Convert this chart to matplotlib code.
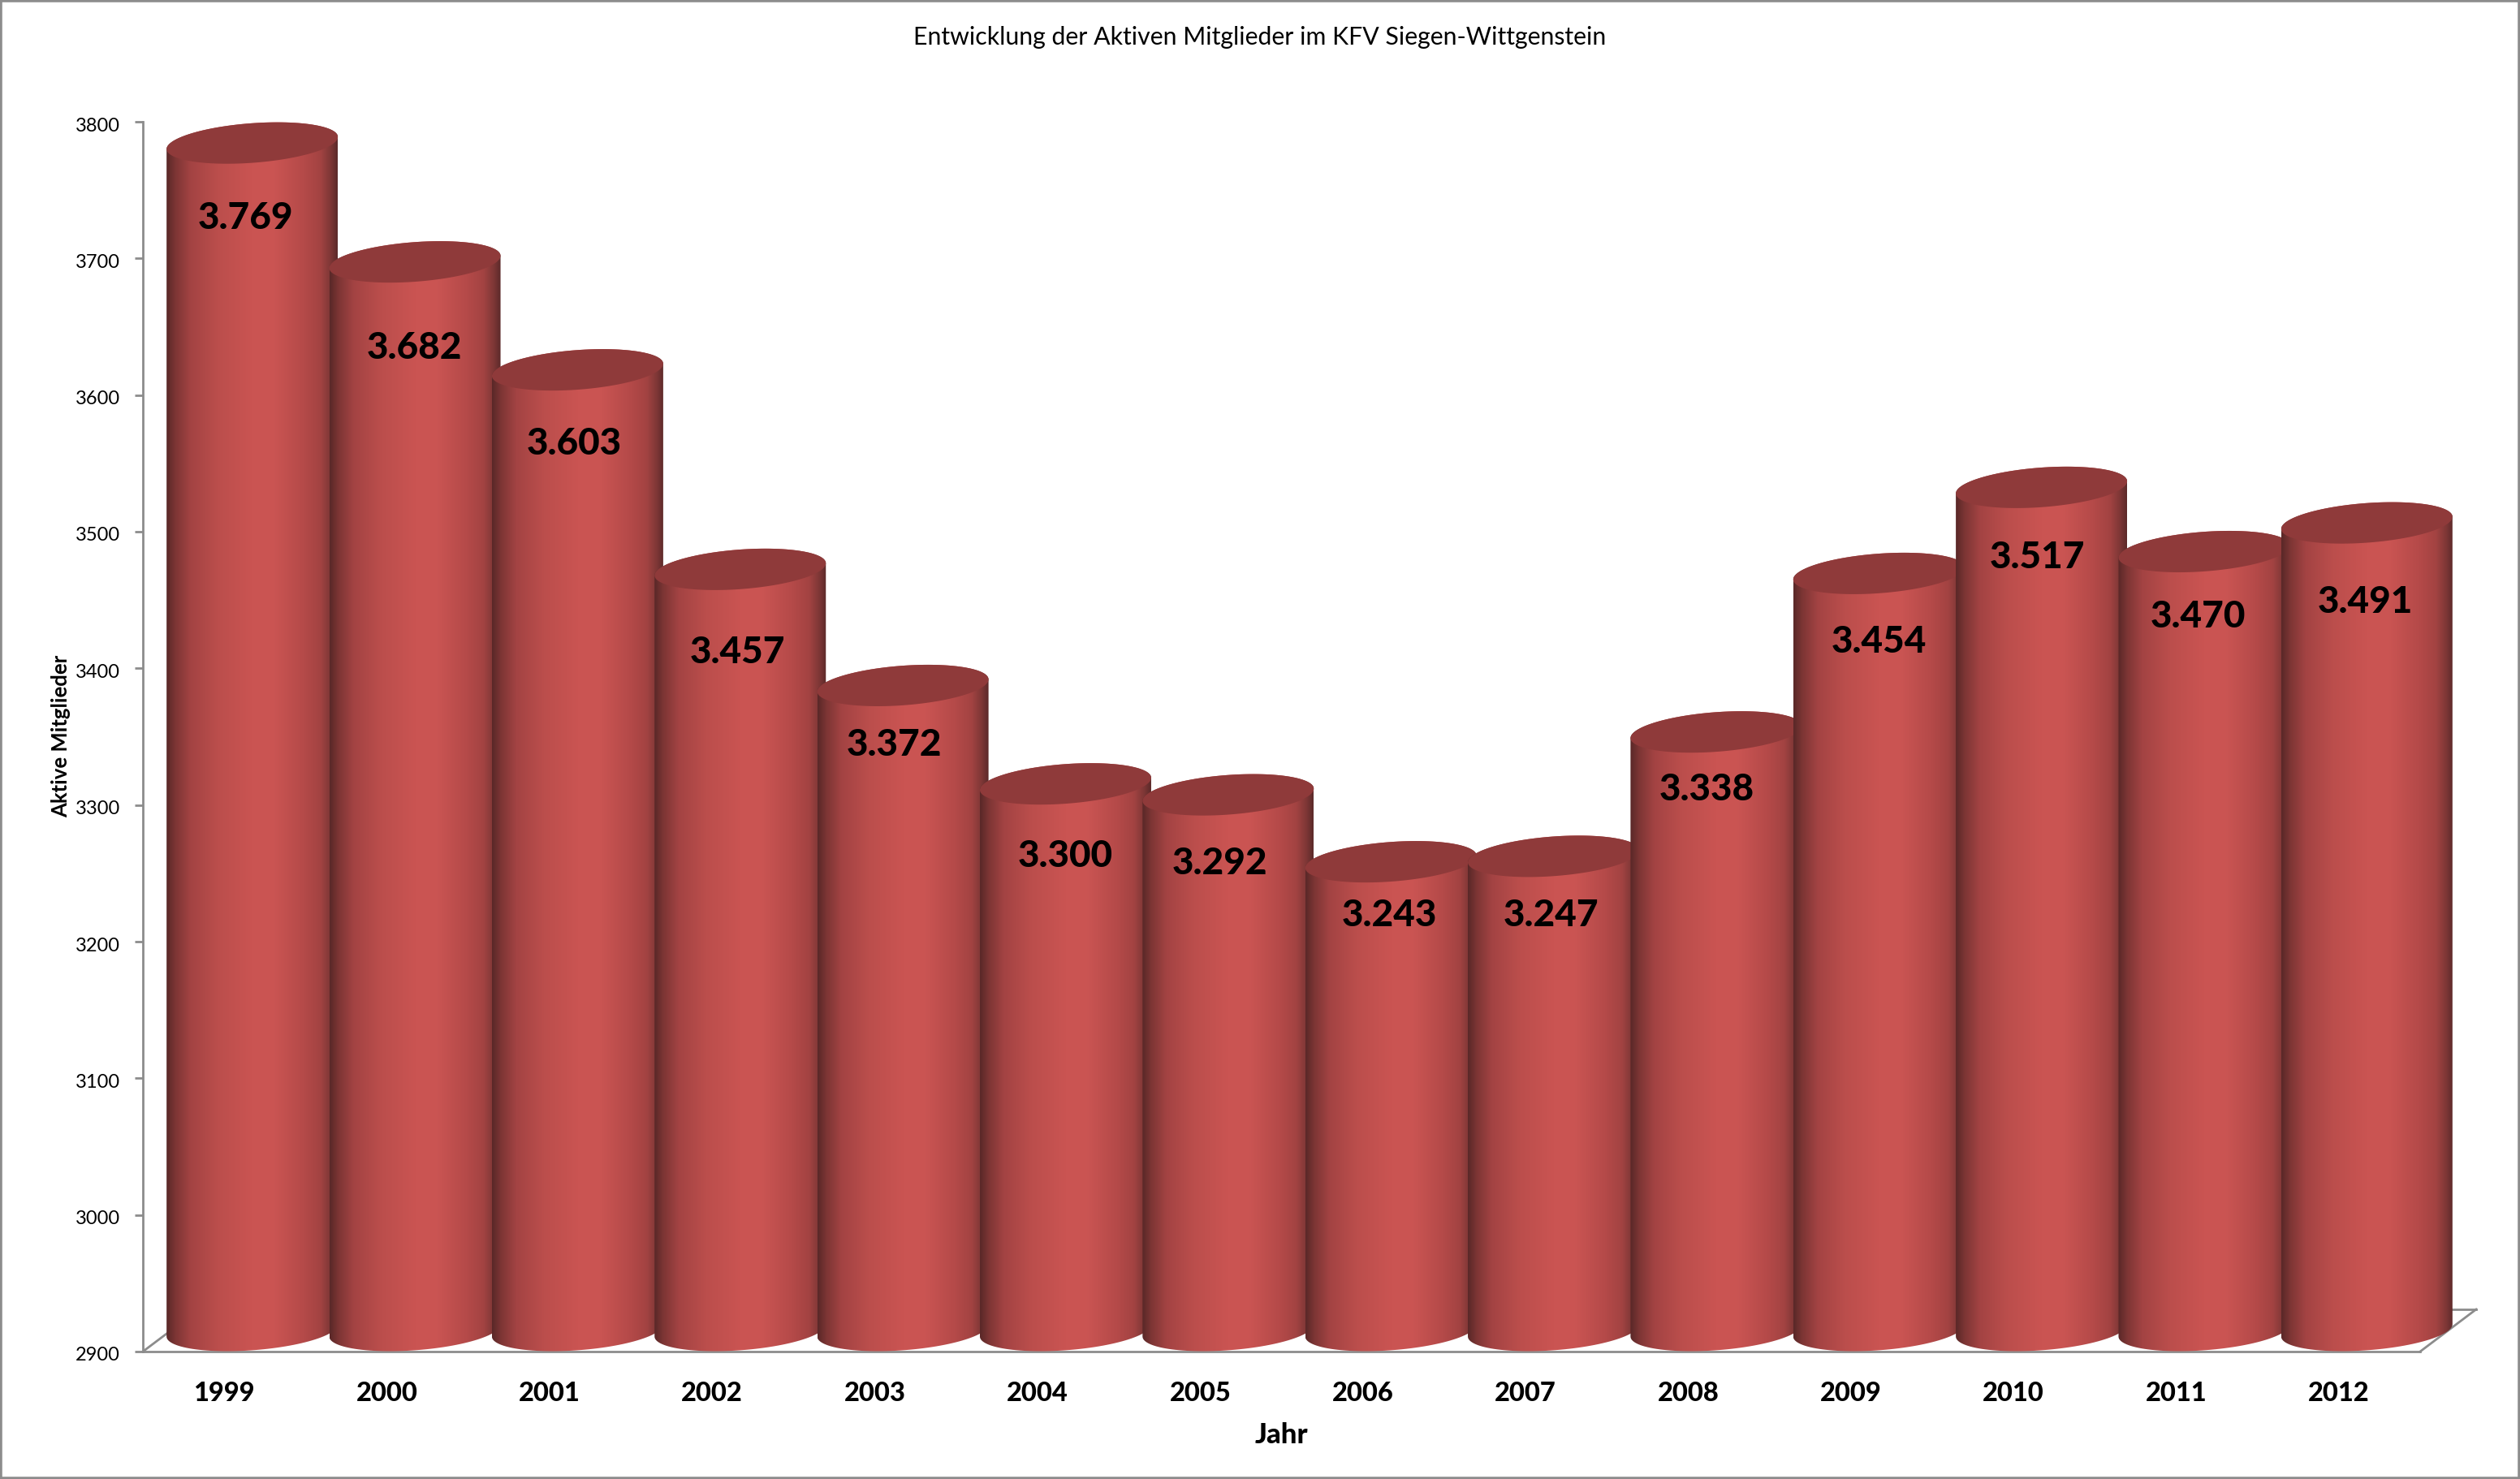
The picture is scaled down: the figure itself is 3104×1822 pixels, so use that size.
#!/usr/bin/env python
#
#   Entwicklung der Aktiven Mitglieder - 3D style cylinder columns
#

import numpy as np
import matplotlib
matplotlib.use("Agg")
import matplotlib.pyplot as plt
from matplotlib.colors import LinearSegmentedColormap
from matplotlib.patches import Polygon, Rectangle
from matplotlib.transforms import ScaledTranslation

plt.rcParams['font.family'] = ['Lato', 'DejaVu Sans']

# Data
YEARS = ['1999', '2000', '2001', '2002', '2003', '2004', '2005',
         '2006', '2007', '2008', '2009', '2010', '2011', '2012']
MEMBERS = [3769, 3682, 3603, 3457, 3372, 3300, 3292,
           3243, 3247, 3338, 3454, 3517, 3470, 3491]
VALUE_LABELS = ['3.769', '3.682', '3.603', '3.457', '3.372', '3.300', '3.292',
                '3.243', '3.247', '3.338', '3.454', '3.517', '3.470', '3.491']
Y_TICKS = [2900, 3000, 3100, 3200, 3300, 3400, 3500, 3600, 3700, 3800]

# Label placement in the original is not regular, so nudge each one (pixels)
LABEL_DROP = [93, 106, 91, 103, 74, 89, 85, 66, 73, 71, 85, 87, 80, 98]
LABEL_SHIFT = [-8, -1, -4, -3, -11, 0, -10, -2, -3, -12, 0, -5, -8, -2]

WIDTH, HEIGHT = 3104, 1822
AXIS_LEFT, AXIS_RIGHT = 176, 2981
AXIS_TOP, AXIS_BOTTOM = 150, 1665
GREY = '#8c8c8c'

fig = plt.figure(figsize=(WIDTH / 100, HEIGHT / 100), dpi=100)
ax = fig.add_axes([AXIS_LEFT / WIDTH, 1 - AXIS_BOTTOM / HEIGHT,
                   (AXIS_RIGHT - AXIS_LEFT) / WIDTH,
                   (AXIS_BOTTOM - AXIS_TOP) / HEIGHT])
ax.set_xlim(-0.5, len(YEARS) - 0.5)
ax.set_ylim(Y_TICKS[0], Y_TICKS[-1])

# Pixel sizes expressed in data units
px_x = (len(YEARS)) / (AXIS_RIGHT - AXIS_LEFT)
px_y = (Y_TICKS[-1] - Y_TICKS[0]) / (AXIS_BOTTOM - AXIS_TOP)

DEPTH_X = 69 * px_x
DEPTH_Y = 52 * px_y
RADIUS = 105.5 * px_x
TILT = 7.5 * px_y
MINOR = 24.4 * px_y

shade = LinearSegmentedColormap.from_list('cyl', [
    (0.00, '#5a2828'), (0.05, '#7c3534'), (0.14, '#a34343'), (0.30, '#bb4e4c'),
    (0.50, '#ca5452'), (0.62, '#cb5553'), (0.80, '#b54a49'), (0.90, '#a34342'),
    (0.96, '#7e3736'), (1.00, '#5c2a2a')])
gradient = np.linspace(0, 1, 256).reshape(1, -1)


def ellipse(cx, cy, t):
    return np.column_stack([cx + RADIUS * np.cos(t),
                            cy + MINOR * np.sin(t) + TILT * np.cos(t)])


# Floor of the 3D box
ax.plot([-0.5, -0.5 + DEPTH_X], [2900, 2900 + DEPTH_Y], color=GREY, lw=2, clip_on=False, zorder=1)
ax.plot([-0.5 + DEPTH_X, 13.5 + DEPTH_X], [2900 + DEPTH_Y] * 2, color=GREY, lw=2, clip_on=False, zorder=1)
ax.plot([13.5, 13.5 + DEPTH_X], [2900, 2900 + DEPTH_Y], color=GREY, lw=2, clip_on=False, zorder=1)

# Columns, left to right so each one overlaps the previous one
for i, value in enumerate(MEMBERS):
    cx = i + DEPTH_X / 2
    base = 2900 + DEPTH_Y / 2
    top = value + DEPTH_Y / 2
    z = 3 + i

    outline = np.vstack([ellipse(cx, top, np.linspace(0, np.pi, 60)),
                         ellipse(cx, base, np.linspace(np.pi, 2 * np.pi, 60))])
    body = Polygon(outline, closed=True, facecolor='none', edgecolor='none',
                   transform=ax.transData)
    ax.add_patch(body)
    body.set_clip_on(False)

    im = ax.imshow(gradient, cmap=shade, aspect='auto', interpolation='bilinear',
                   extent=[cx - RADIUS, cx + RADIUS, 2880, 3810], zorder=z)
    im.set_clip_path(body)
    im.set_clip_box(fig.bbox)

    cap = Polygon(ellipse(cx, top, np.linspace(0, 2 * np.pi, 120)), closed=True,
                  facecolor='#8f3a3a', edgecolor='none', zorder=z + 0.1, clip_on=False)
    ax.add_patch(cap)

# Value labels on top of everything
for i, value in enumerate(MEMBERS):
    ax.text(i + DEPTH_X / 2 + LABEL_SHIFT[i] * px_x,
            value + DEPTH_Y / 2 - LABEL_DROP[i] * px_y,
            VALUE_LABELS[i], ha='center', va='center', fontsize=33,
            fontweight='black', color='black', zorder=30)

ax.set_xlim(-0.5, len(YEARS) - 0.5)
ax.set_ylim(Y_TICKS[0], Y_TICKS[-1])
ax.patch.set_alpha(0)

# Axes
for side in ['top', 'right']:
    ax.spines[side].set_visible(False)
for side in ['left', 'bottom']:
    ax.spines[side].set_color(GREY)
    ax.spines[side].set_linewidth(2)
    ax.spines[side].set_zorder(2)

ax.set_xticks(range(len(YEARS)))
ax.set_xticklabels(YEARS, fontsize=23.5, fontweight='black')
ax.tick_params(axis='x', length=0, pad=27)
ax.set_yticks(Y_TICKS)
ax.set_yticklabels([str(t) for t in Y_TICKS], fontsize=17)
ax.tick_params(axis='y', length=7, width=2, color=GREY, pad=13)

# Tick labels sit a little below their tick marks in the original
_offset = ScaledTranslation(0, -3 / 100, fig.dpi_scale_trans)
for _label in ax.get_yticklabels():
    _label.set_transform(_label.get_transform() + _offset)

# Titles
fig.text(1552 / WIDTH, 1 - 46 / HEIGHT, 'Entwicklung der Aktiven Mitglieder im KFV Siegen-Wittgenstein',
         ha='center', va='center', fontsize=21.8, color='black')
fig.text(1578 / WIDTH, 1 - 1768 / HEIGHT, 'Jahr', ha='center', va='center',
         fontsize=25, fontweight='black')
fig.text(75 / WIDTH, 1 - 907 / HEIGHT, 'Aktive Mitglieder', ha='center', va='center',
         rotation=90, fontsize=18.5, fontweight='bold')

# Chart frame
fig.add_artist(Rectangle((0, 0), 1, 1, transform=fig.transFigure, fill=False,
                         edgecolor=GREY, linewidth=4))

fig.savefig('out.png', dpi=100)
